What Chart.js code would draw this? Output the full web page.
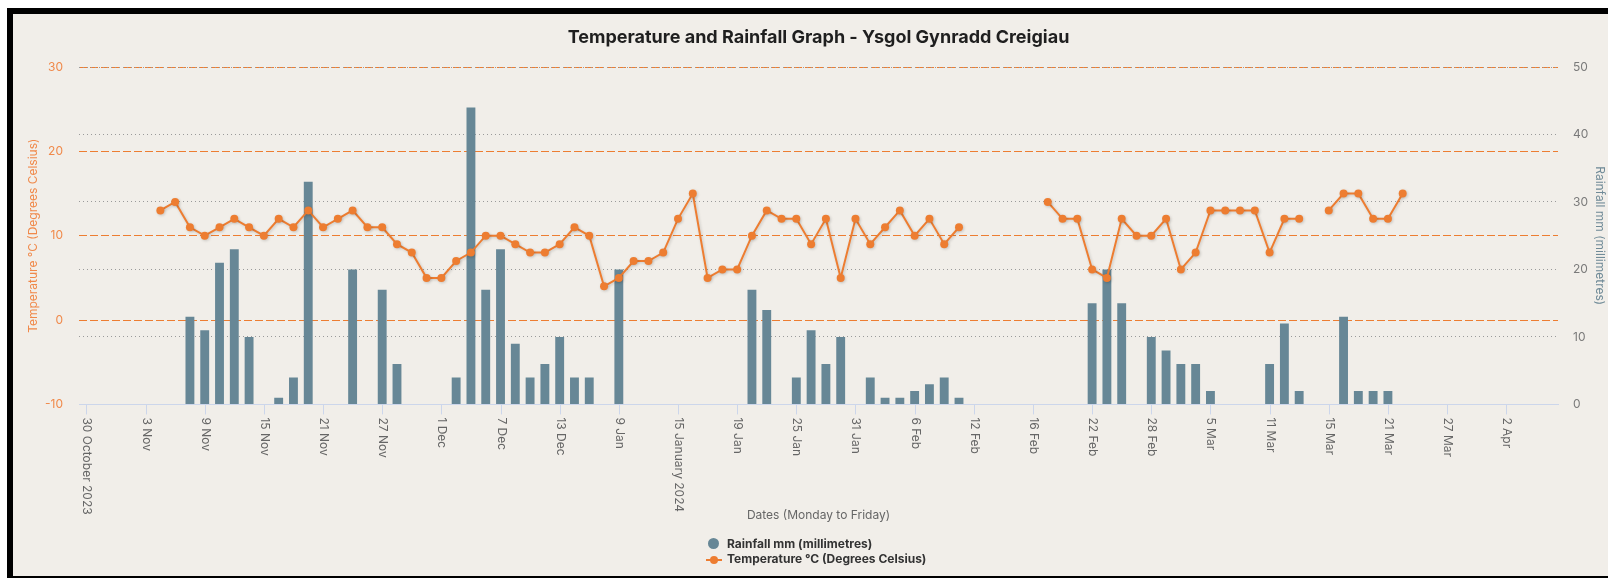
<!DOCTYPE html>
<html>
<head>
<meta charset="utf-8">
<script src="https://cdn.jsdelivr.net/npm/chart.js@4/dist/chart.umd.min.js"></script>
<style>
    html, body { margin: 0; padding: 0; background: #fff; overflow: hidden; }
    #frame {
        position: absolute; left: 7px; top: 8px;
        width: 1640px; height: 562px;
        border: 6px solid #000;
        background: #f1eee9;
    }
    #chartBox { position: absolute; left: 0; top: 0; width: 1595px; height: 562px; }
    #legend {
        position: absolute; left: 692px; top: 522px;
        font: bold 12px Inter, sans-serif; color: #333; line-height: 15.4px;
    }
    .item { display: flex; align-items: center; white-space: nowrap; }
    .sym { position: relative; width: 18px; height: 15px; margin-right: 4px; }
    .dot { position: absolute; left: 3px; top: 2px; width: 11px; height: 11px; border-radius: 50%; background: #678796; }
    .line { position: absolute; left: 1px; top: 7px; width: 16px; height: 2px; background: #ed7d31; }
    .pt { position: absolute; left: 5px; top: 4px; width: 8px; height: 8px; border-radius: 50%; background: #ed7d31; }
</style>
</head>
<body>
<div id="frame">
    <div id="chartBox"><canvas id="weatherChart"></canvas></div>
    <div id="legend">
        <div class="item"><span class="sym"><span class="dot"></span></span>Rainfall mm (millimetres)</div>
        <div class="item"><span class="sym"><span class="line"></span><span class="pt"></span></span>Temperature °C (Degrees Celsius)</div>
    </div>
</div>
<script>
// School days (Monday to Friday), Christmas holidays left out
const days = [
    '30 Oct', '31 Oct',
    '1 Nov', '2 Nov', '3 Nov', '6 Nov', '7 Nov', '8 Nov', '9 Nov', '10 Nov', '13 Nov', '14 Nov', '15 Nov',
    '16 Nov', '17 Nov', '20 Nov', '21 Nov', '22 Nov', '23 Nov', '24 Nov', '27 Nov', '28 Nov', '29 Nov', '30 Nov',
    '1 Dec', '4 Dec', '5 Dec', '6 Dec', '7 Dec', '8 Dec', '11 Dec', '12 Dec', '13 Dec', '14 Dec', '15 Dec',
    '8 Jan', '9 Jan', '10 Jan', '11 Jan', '12 Jan', '15 Jan', '16 Jan', '17 Jan', '18 Jan', '19 Jan',
    '22 Jan', '23 Jan', '24 Jan', '25 Jan', '26 Jan', '29 Jan', '30 Jan', '31 Jan',
    '1 Feb', '2 Feb', '5 Feb', '6 Feb', '7 Feb', '8 Feb', '9 Feb', '12 Feb', '13 Feb', '14 Feb', '15 Feb', '16 Feb',
    '19 Feb', '20 Feb', '21 Feb', '22 Feb', '23 Feb', '26 Feb', '27 Feb', '28 Feb', '29 Feb',
    '1 Mar', '4 Mar', '5 Mar', '6 Mar', '7 Mar', '8 Mar', '11 Mar', '12 Mar', '13 Mar', '14 Mar', '15 Mar',
    '18 Mar', '19 Mar', '20 Mar', '21 Mar', '22 Mar', '25 Mar', '26 Mar', '27 Mar', '28 Mar', '29 Mar',
    '1 Apr', '2 Apr', '3 Apr', '4 Apr', '5 Apr'
];

// every 4th day gets a label
const tickLabels = [
    '30 October 2023', '3 Nov', '9 Nov', '15 Nov', '21 Nov', '27 Nov', '1 Dec', '7 Dec', '13 Dec',
    '9 Jan', '15 January 2024', '19 Jan', '25 Jan', '31 Jan', '6 Feb', '12 Feb', '16 Feb', '22 Feb',
    '28 Feb', '5 Mar', '11 Mar', '15 Mar', '21 Mar', '27 Mar', '2 Apr'
];

const temperature = [
    null, null, null, null, null, 13, 14, 11, 10, 11,
    12, 11, 10, 12, 11, 13, 11, 12, 13, 11,
    11, 9, 8, 5, 5, 7, 8, 10, 10, 9,
    8, 8, 9, 11, 10, 4, 5, 7, 7, 8,
    12, 15, 5, 6, 6, 10, 13, 12, 12, 9,
    12, 5, 12, 9, 11, 13, 10, 12, 9, 11,
    null, null, null, null, null, 14, 12, 12, 6, 5,
    12, 10, 10, 12, 6, 8, 13, 13, 13, 13,
    8, 12, 12, null, 13, 15, 15, 12, 12, 15,
    null, null, null, null, null, null, null, null, null, null
];

const rainfall = [
    null, null, null, null, null, null, null, 13, 11, 21,
    23, 10, null, 1, 4, 33, null, null, 20, null,
    17, 6, null, null, null, 4, 44, 17, 23, 9,
    4, 6, 10, 4, 4, null, 20, null, null, null,
    null, null, null, null, null, 17, 14, null, 4, 11,
    6, 10, null, 4, 1, 1, 2, 3, 4, 1,
    null, null, null, null, null, null, null, null, 15, 20,
    15, null, 10, 8, 6, 6, 2, null, null, null,
    6, 12, 2, null, null, 13, 2, 2, 2, null,
    null, null, null, null, null, null, null, null, null, null
];

const ORANGE = '#ed7d31';
const SLATE = '#678796';
const FONT = 'Inter, sans-serif';

// x labels read top to bottom, so draw them here
const dateLabels = {
    id: 'dateLabels',
    afterDraw(chart) {
        const x = chart.scales.x;
        const ctx = chart.ctx;
        ctx.save();
        ctx.font = '12px ' + FONT;
        ctx.fillStyle = '#666';
        ctx.strokeStyle = '#ccd6eb';
        ctx.lineWidth = 1;
        tickLabels.forEach((label, i) => {
            const px = Math.round(x.getPixelForValue(i * 4)) + 0.5;
            ctx.beginPath();
            ctx.moveTo(px, x.top);
            ctx.lineTo(px, x.top + 10);
            ctx.stroke();
            ctx.save();
            ctx.translate(px, x.top + 13);
            ctx.rotate(Math.PI / 2);
            ctx.textAlign = 'left';
            ctx.textBaseline = 'middle';
            ctx.fillText(label, 0, 0);
            ctx.restore();
        });
        ctx.restore();
    }
};

// soft shadow under the temperature line
const lineShadow = {
    id: 'lineShadow',
    beforeDatasetDraw(chart, args) {
        if (args.index !== 0) return;
        const ctx = chart.ctx;
        ctx.save();
        ctx.shadowColor = 'rgba(0,0,0,0.18)';
        ctx.shadowBlur = 3;
        ctx.shadowOffsetX = 1;
        ctx.shadowOffsetY = 1;
    },
    afterDatasetDraw(chart, args) {
        if (args.index !== 0) return;
        chart.ctx.restore();
    }
};

new Chart(document.getElementById('weatherChart'), {
    type: 'bar',
    data: {
        labels: days,
        datasets: [
            {
                type: 'line',
                label: 'Temperature °C (Degrees Celsius)',
                data: temperature,
                yAxisID: 'y',
                borderColor: ORANGE,
                backgroundColor: ORANGE,
                borderWidth: 2,
                pointRadius: 4,
                pointBorderWidth: 0,
                pointBackgroundColor: ORANGE,
                spanGaps: false,
                tension: 0,
                order: 0
            },
            {
                label: 'Rainfall mm (millimetres)',
                data: rainfall,
                yAxisID: 'y1',
                backgroundColor: SLATE,
                barPercentage: 0.6,
                categoryPercentage: 1,
                order: 1
            }
        ]
    },
    options: {
        responsive: true,
        maintainAspectRatio: false,
        animation: false,
        layout: { padding: { left: 0, right: 0, top: 0, bottom: 50 } },
        plugins: {
            legend: { display: false },
            tooltip: { enabled: false },
            title: {
                display: true,
                fullSize: false,
                text: 'Temperature and Rainfall Graph - Ysgol Gynradd Creigiau',
                color: '#1f1f1f',
                font: { family: FONT, size: 18, weight: 'bold' },
                padding: { top: 13.2, bottom: 18.2 }
            }
        },
        scales: {
            x: {
                type: 'category',
                offset: true,
                grid: { display: false },
                border: { display: true, color: '#ccd6eb', width: 1 },
                ticks: { display: false },
                title: {
                    display: true,
                    text: 'Dates (Monday to Friday)',
                    color: '#666',
                    font: { family: FONT, size: 12 },
                    padding: { top: 0, bottom: 3.8 }
                },
                afterFit: (s) => { s.height = 121.6; }
            },
            y: {
                position: 'left',
                min: -10,
                max: 30,
                ticks: { stepSize: 10, padding: 16, color: '#f0894a', font: { family: FONT, size: 12 } },
                grid: {
                    drawTicks: false,
                    lineWidth: 1,
                    color: (c) => (c.tick && c.tick.value === -10) ? 'rgba(0,0,0,0)' : ORANGE
                },
                border: { display: false, dash: [8, 3] },
                title: {
                    display: true,
                    text: 'Temperature °C (Degrees Celsius)',
                    color: '#f0894a',
                    font: { family: FONT, size: 12 },
                    padding: { top: 12.8, bottom: 0 }
                },
                afterFit: (s) => { s.width = 66; }
            },
            y1: {
                position: 'right',
                min: 0,
                max: 50,
                ticks: { stepSize: 10, padding: 15, color: '#7a7a7a', font: { family: FONT, size: 12 } },
                grid: {
                    drawTicks: false,
                    lineWidth: 1,
                    color: (c) => (c.tick && c.tick.value === 0) ? 'rgba(0,0,0,0)' : '#9a9a9a'
                },
                border: { display: false, dash: [1, 3] },
                title: {
                    display: true,
                    text: 'Rainfall mm (millimetres)',
                    color: '#6f8a97',
                    font: { family: FONT, size: 12 },
                    padding: { top: 0.8, bottom: 0 }
                },
                afterFit: (s) => { s.width = 50; }
            }
        }
    },
    plugins: [dateLabels, lineShadow]
});
</script>
</body>
</html>
